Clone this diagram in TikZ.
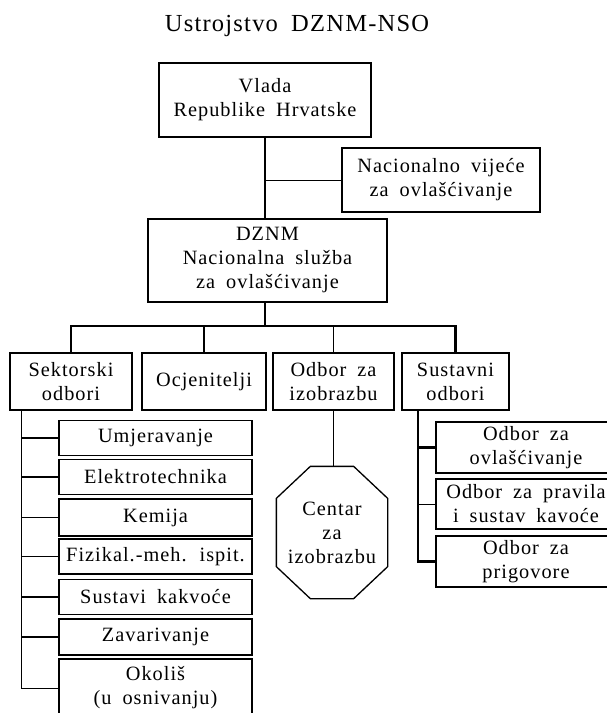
\documentclass[tikz,border=0pt]{standalone}
\usepackage{fontspec}
\setmainfont{Liberation Serif}[LetterSpace=5, WordSpace=1.8]
\usepackage{tikz}

\begin{document}
\begin{tikzpicture}[x=1pt,y=-1pt]
    \useasboundingbox (0,0) rectangle (606,713);
    \tikzset{BoxStyle/.style = {draw, line width=1.3pt, inner sep=0pt, align=center,
                                font=\fontsize{20.3}{24}\selectfont}}
    \tikzset{SubBox/.style = {BoxStyle, minimum width=193pt, minimum height=35pt}}
    \tikzset{RightBox/.style = {BoxStyle, minimum width=180pt, minimum height=51pt}}
    \tikzset{ThickEdge/.style = {line width=2.2pt}}
    \tikzset{ThinEdge/.style = {line width=1pt}}

    \node[font=\fontsize{24.5}{28}\selectfont] (title) at (297,26) {Ustrojstvo DZNM-NSO};

    \node[BoxStyle, minimum width=212pt, minimum height=74pt] (vlada) at (265,100) {Vlada\\Republike Hrvatske};
    \node[BoxStyle, minimum width=198pt, minimum height=64pt] (vijece) at (441,180) {Nacionalno vijeće\\za ovlašćivanje};
    \node[BoxStyle, minimum width=239pt, minimum height=83pt] (dznm) at (267.5,260.5) {DZNM\\Nacionalna služba\\za ovlašćivanje};

    \node[BoxStyle, minimum width=122pt, minimum height=57pt] (sektorski) at (71,381.5) {Sektorski\\odbori};
    \node[BoxStyle, minimum width=124pt, minimum height=57pt] (ocjenitelji) at (204,381.5) {Ocjenitelji};
    \node[BoxStyle, minimum width=121pt, minimum height=57pt] (izobrazba) at (333.5,381.5) {Odbor za\\izobrazbu};
    \node[BoxStyle, minimum width=107pt, minimum height=57pt] (sustavni) at (455.5,381.5) {Sustavni\\odbori};

    \node[BoxStyle, draw=none, minimum width=110pt, minimum height=131pt] (centar) at (332,532.5) {Centar\\za\\izobrazbu};
    \draw[line width=1.3pt] ([xshift=34]centar.north west) -- ([xshift=-34]centar.north east)
        -- ([yshift=-32]centar.north east) -- ([yshift=32]centar.south east)
        -- ([xshift=-34]centar.south east) -- ([xshift=34]centar.south west)
        -- ([yshift=32]centar.south west) -- ([yshift=-32]centar.north west) -- cycle;

    \node[SubBox] (umj) at (155.5,438) {Umjeravanje};
    \node[SubBox] (elek) at (155.5,477) {Elektrotechnika};
    \node[SubBox, minimum height=37pt] (kem) at (155.5,517.5) {Kemija};
    \node[SubBox] (fiz) at (155.5,556.5) {Fizikal.-meh. ispit.};
    \node[SubBox] (sust) at (155.5,597) {Sustavi kakvoće};
    \node[SubBox, minimum height=36pt] (zav) at (155.5,637) {Zavarivanje};
    \node[SubBox, minimum height=58pt] (okol) at (155.5,688) {Okoliš\\(u osnivanju)};

    \node[RightBox] (ovl) at (526,447.5) {Odbor za\\ovlašćivanje};
    \node[RightBox, minimum height=50pt] (pravila) at (526,504) {Odbor za pravila\\i sustav kavoće};
    \node[RightBox] (prig) at (526,561.5) {Odbor za\\prigovore};

    \coordinate (bus) at (265,326);
    \coordinate (lspine) at (21,410);
    \coordinate (rspine) at (418,410);

    % top part
    \draw[ThickEdge] (vlada.south) -- (vlada.south |- dznm.north);
    \draw[ThinEdge] (vlada.south |- vijece.west) -- (vijece.west);
    \draw[ThickEdge] (vlada.south |- dznm.south) -- (bus);
    \draw[ThickEdge] (sektorski.north) |- (bus) -| (sustavni.north);
    \draw[ThickEdge] (ocjenitelji.north) -- (ocjenitelji.north |- bus);
    \draw[ThinEdge] (izobrazba.north) -- (izobrazba.north |- bus);
    \draw[ThinEdge] (izobrazba.south) -- (izobrazba.south |- centar.north);

    % sektorski odbori
    \draw[ThinEdge] (lspine) |- (okol.west);
    \draw[ThickEdge] (umj.west -| lspine) -- (umj.west);
    \draw[ThickEdge] (elek.west -| lspine) -- (elek.west);
    \draw[ThinEdge] (kem.west -| lspine) -- (kem.west);
    \draw[ThinEdge] (fiz.west -| lspine) -- (fiz.west);
    \draw[ThickEdge] (sust.west -| lspine) -- (sust.west);
    \draw[ThickEdge] (zav.west -| lspine) -- (zav.west);

    % sustavni odbori
    \draw[ThickEdge] (rspine) |- (prig.west);
    \draw[ThickEdge] (ovl.west -| rspine) -- (ovl.west);
    \draw[ThinEdge] (pravila.west -| rspine) -- (pravila.west);
\end{tikzpicture}
\end{document}
